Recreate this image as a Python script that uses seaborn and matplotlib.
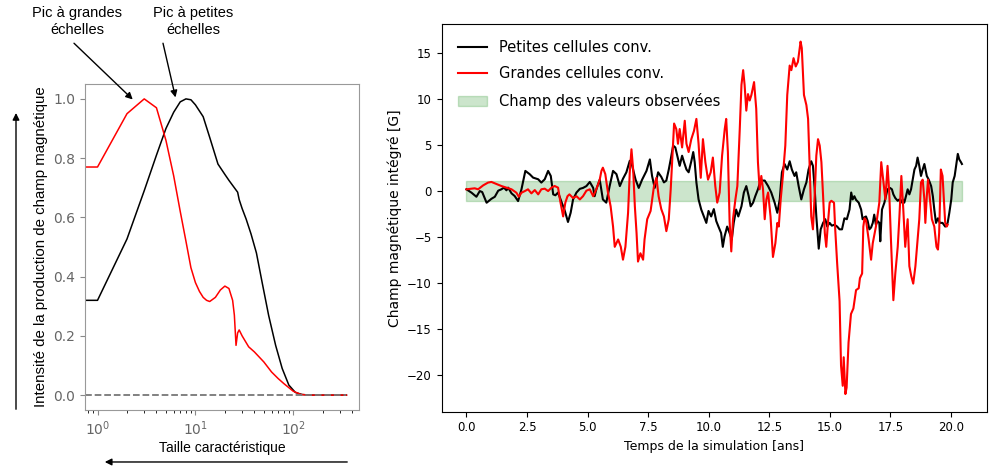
import numpy as np
import matplotlib
matplotlib.use("Agg")
import matplotlib.pyplot as plt
import seaborn as sns

# --- Panneau gauche : spectre de production ---
taille = [0, 1, 2, 3, 4, 5, 6, 7, 8, 9, 10, 11, 12, 13, 14, 16, 18, 20, 22, 24, 25, 26, 27, 28,
          30, 35, 40, 50, 60, 70, 80, 100, 120, 150, 200, 349]
prod_grandes = [0.77, 0.77, 0.95, 1.0, 0.97, 0.86, 0.74, 0.62, 0.52, 0.43, 0.38, 0.35, 0.33, 0.32,
                0.316, 0.33, 0.355, 0.368, 0.36, 0.32, 0.27, 0.168, 0.21, 0.22,
                0.2, 0.163, 0.146, 0.112, 0.078, 0.056, 0.039, 0.013, 0.002, 0.0, 0.0, 0.0]

taille_p = [0, 1, 2, 3, 4, 5, 6, 7, 8, 9, 10, 12, 14, 17, 20, 22, 25, 27, 28, 30, 33, 37, 42, 48,
            56, 66, 77, 90, 105, 123, 150, 200, 349]
prod_petites = [0.32, 0.32, 0.527, 0.69, 0.81, 0.90, 0.955, 0.99, 1.0, 0.997, 0.98, 0.94, 0.87,
                0.78, 0.745, 0.725, 0.70, 0.685, 0.66, 0.63, 0.594, 0.544, 0.48, 0.381,
                0.269, 0.168, 0.09, 0.034, 0.009, 0.002, 0.0, 0.0, 0.0]

# --- Panneau droit : champ magnetique integre ---
t_petites = [0.0, 0.21, 0.41, 0.55, 0.65, 0.83, 1.03, 1.17, 1.31, 1.44, 1.55, 1.65, 1.72, 1.86, 1.99,
             2.13, 2.27, 2.43, 2.61, 2.75, 2.96, 3.09, 3.23, 3.37, 3.48, 3.58, 3.67, 3.78, 3.92,
             4.06, 4.19, 4.30, 4.40, 4.54, 4.68, 4.81, 4.95, 5.09, 5.23, 5.29, 5.36, 5.50, 5.63,
             5.77, 5.91, 6.05, 6.19, 6.33, 6.46, 6.60, 6.74, 6.84, 6.98, 7.11, 7.25, 7.43, 7.57,
             7.66, 7.77, 7.91, 8.04, 8.15, 8.25, 8.35, 8.43, 8.53, 8.62, 8.70, 8.80, 8.90, 8.98,
             9.08, 9.17, 9.28, 9.36, 9.42, 9.49, 9.58, 9.69, 9.80, 9.90, 9.99, 10.10, 10.21,
             10.31, 10.40, 10.51, 10.58, 10.65, 10.76, 10.86, 10.95, 11.03, 11.13, 11.22, 11.35,
             11.45, 11.55, 11.65, 11.73, 11.83, 11.92, 12.03, 12.14, 12.31, 12.45, 12.58, 12.72,
             12.83, 12.93, 13.02, 13.13, 13.24, 13.34, 13.43, 13.54, 13.61, 13.71, 13.82, 13.93,
             14.03, 14.12, 14.23, 14.30, 14.37, 14.44, 14.54, 14.62, 14.72, 14.81, 14.89, 14.99,
             15.08, 15.19, 15.30, 15.40, 15.50, 15.60, 15.70, 15.81, 15.88, 15.94, 16.01, 16.08,
             16.19, 16.29, 16.35, 16.42, 16.49, 16.56, 16.63, 16.70, 16.77, 16.83, 16.90, 16.97,
             17.04, 17.08, 17.15, 17.25, 17.31, 17.38, 17.48, 17.56, 17.62, 17.70, 17.80, 17.87,
             17.93, 18.00, 18.07, 18.14, 18.21, 18.28, 18.35, 18.42, 18.49, 18.56, 18.62, 18.69,
             18.76, 18.83, 18.90, 19.00, 19.08, 19.18, 19.25, 19.31, 19.38, 19.46, 19.54, 19.65,
             19.76, 19.86, 19.93, 20.01, 20.07, 20.15, 20.21, 20.28, 20.34, 20.41, 20.45]
v_petites = [0.15, -0.22, -0.66, -0.04, -0.15, -1.31, -0.88, -0.66, 0.0, 0.15, 0.33, 0.04, 0.33, -0.29, -0.58,
             -1.13, 0.15, 2.15, 1.79, 1.42, 1.24, 0.88, 1.24, 2.15, 1.6, -0.4, -0.5, -0.2, -1.2,
             -2.2, -3.4, -2.4, -0.95, -0.2, 0.2, 0.3, 0.5, 0.95, 0.3, -0.6, 0.15, 1.2, -0.95,
             -1.3, 0.5, 2.15, 1.8, 0.5, 1.3, 2.0, 3.25, 2.7, 1.2, 0.3, 1.2, 2.15, 3.4,
             1.6, 0.3, 2.0, 1.5, 0.9, 1.1, 2.3, 3.4, 4.9, 4.7, 3.8, 2.7, 3.8, 3.1,
             2.3, 2.0, 3.2, 4.2, 3.1, 0.9, -0.95, -2.05, -2.8, -3.5, -2.2, -2.8, -2.0,
             -3.3, -3.9, -4.6, -6.1, -5.0, -3.9, -4.6, -5.3, -3.5, -2.05, -2.8, -1.7,
             -0.2, 0.5, -0.6, -1.7, -1.3, -0.6, 0.15, 1.1, 1.1, 0.5, -0.2, -1.3,
             -2.4, -0.95, 2.0, 2.9, 2.3, 3.2, 2.3, 1.6, 2.0, 0.5, -0.95, 0.15,
             0.9, 2.3, 3.2, 2.7, 0.3, -2.8, -6.3, -4.2, -3.5, -3.1, -3.9, -3.5,
             -3.8, -3.7, -3.9, -4.2, -4.2, -3.0, -3.1, -2.05, -0.2, -0.95, -0.6, -1.0,
             -1.3, -2.05, -3.1, -2.9, -2.8, -3.3, -4.2, -4.0, -3.5, -2.6, -3.7, -3.3,
             -3.5, -5.5, -2.05, -1.3, -0.6, 0.15, 0.3, 0.15, -0.4, -0.8, -1.1, -0.95,
             -1.3, -0.95, -1.3, -0.6, 0.15, -0.4, 0.15, 1.2, 2.3, 2.7, 3.6, 2.7,
             1.6, 2.3, 2.9, 1.6, 1.2, 0.5, -0.6, -2.05, -3.5, -3.0, -3.5, -3.5,
             -3.9, -3.5, -2.4, -0.95, 0.9, 1.6, 2.7, 4.0, 3.4, 3.1, 2.9]

t_grandes = [0.0, 0.34, 0.48, 0.69, 0.89, 1.03, 1.17, 1.31, 1.44, 1.65, 1.86, 2.06, 2.16, 2.27, 2.41,
             2.54, 2.68, 2.82, 2.96, 3.09, 3.23, 3.37, 3.51, 3.64, 3.78, 3.87, 3.99, 4.08, 4.17,
             4.25, 4.40, 4.54, 4.68, 4.81, 4.95, 5.09, 5.23, 5.36, 5.50, 5.57, 5.63, 5.73, 5.84,
             5.95, 6.05, 6.12, 6.26, 6.37, 6.46, 6.56, 6.67, 6.74, 6.81, 6.88, 6.95, 7.02, 7.08,
             7.18, 7.29, 7.35, 7.46, 7.60, 7.74, 7.84, 7.93, 8.04, 8.15, 8.25, 8.35, 8.43, 8.50,
             8.57, 8.66, 8.73, 8.80, 8.90, 9.01, 9.08, 9.17, 9.28, 9.39, 9.49, 9.58, 9.67, 9.76,
             9.86, 9.97, 10.08, 10.17, 10.27, 10.35, 10.45, 10.55, 10.66, 10.72, 10.79, 10.86,
             10.93, 11.00, 11.10, 11.18, 11.28, 11.35, 11.42, 11.48, 11.55, 11.62, 11.69, 11.76,
             11.87, 11.96, 12.03, 12.10, 12.17, 12.24, 12.31, 12.38, 12.45, 12.55, 12.65, 12.75,
             12.83, 12.89, 12.97, 13.06, 13.16, 13.24, 13.34, 13.41, 13.50, 13.59, 13.68, 13.79,
             13.84, 13.93, 14.03, 14.10, 14.16, 14.23, 14.30, 14.37, 14.44, 14.51, 14.58, 14.65,
             14.72, 14.79, 14.85, 14.92, 14.99, 15.06, 15.17, 15.22, 15.30, 15.40, 15.46, 15.53,
             15.57, 15.64, 15.69, 15.77, 15.87, 15.97, 16.08, 16.19, 16.24, 16.33, 16.38, 16.43,
             16.49, 16.60, 16.70, 16.77, 16.90, 17.04, 17.12, 17.21, 17.29, 17.38, 17.45, 17.52,
             17.62, 17.70, 17.80, 17.87, 17.95, 18.03, 18.11, 18.21, 18.28, 18.36, 18.44, 18.53,
             18.62, 18.69, 18.76, 18.83, 18.90, 18.94, 19.00, 19.05, 19.13, 19.21, 19.31, 19.40,
             19.46, 19.51, 19.58, 19.65, 19.76, 19.82, 19.86]
v_grandes = [0.15, 0.26, 0.15, 0.58, 0.88, 0.95, 0.8, 0.66, 0.51, 0.33, 0.15, -0.22, -0.66, -0.22, -0.04,
             0.15, -0.29, 0.07, -0.4, 0.15, 0.22, -0.04, 0.33, 0.51, 0.33, -1.13, -2.8, -1.3, -0.6,
             -0.4, -0.8, -0.6, -0.95, -0.6, 0.0, 0.15, -0.6, 0.15, 1.2, 2.15, 2.5, 1.8, -0.2,
             -1.7, -3.9, -6.1, -5.3, -6.1, -7.5, -6.1, -2.4, 2.0, 4.5, 2.3, -1.7, -4.6, -7.7,
             -6.8, -7.5, -5.3, -3.1, -2.2, 0.5, 1.4, -0.6, -2.0, -2.8, -4.4, -3.1, 0.15, 3.8,
             7.3, 6.7, 5.1, 6.7, 4.7, 7.6, 5.1, 4.2, 5.6, 6.5, 7.8, 5.1, 1.4, 5.6,
             3.1, 1.2, 2.0, 3.6, 0.5, -1.3, -0.2, 3.8, 6.7, 7.8, 4.2, -3.3,
             -6.6, -3.1, -0.95, 0.5, 6.7, 11.5, 13.1, 11.5, 8.7, 10.5, 9.8, 10.4,
             11.8, 8.9, 3.1, 0.15, 1.6, 0.15, -3.1, -0.95, -0.2, -2.8, -7.2, -5.7,
             -3.5, -3.9, -0.95, 1.6, 4.9, 10.4, 13.6, 13.1, 14.4, 13.5, 14.0, 16.2,
             15.5, 10.4, 9.3, 7.8, 3.1, -2.8, -4.2, -0.6, 3.8, 5.6, 4.9, 3.1,
             -0.6, -4.6, -6.1, -3.5, -1.3, -1.1, -1.3, -4.2, -7.9, -12.0, -19.0, -21.2,
             -18.1, -22.1, -21.4, -16.5, -13.4, -12.8, -10.8, -10.6, -9.5, -9.0, -3.9, -3.0,
             -3.2, -5.3, -7.5, -5.7, -3.9, -1.3, 3.1, 0.9, -0.95, 2.7, -0.2, -5.3,
             -11.9, -9.0, -6.1, -2.8, 1.6, -2.05, -6.1, -3.1, -8.2, -9.3, -10.1, -8.2,
             -5.3, -3.1, 0.9, 1.2, -0.95, -3.5, -0.6, 1.2, -0.95, -3.1, -3.9, -6.1,
             -6.4, -4.6, 2.3, 1.6, -3.5, -3.9, -3.7]

bande_obs = (-1.1, 1.1)

fig = plt.figure(figsize=(10, 4.75), dpi=100)
ax1 = fig.add_axes([0.085, 0.137, 0.274, 0.686])
ax2 = fig.add_axes([0.4417, 0.1333, 0.545, 0.8162])

# --- Gauche ---
sns.lineplot(x=taille_p, y=prod_petites, color='k', lw=1.1, ax=ax1, legend=False)
sns.lineplot(x=taille, y=prod_grandes, color='r', lw=1.1, ax=ax1, legend=False)
ax1.plot(taille, np.zeros(len(taille)), ls='--', color='#777777', lw=1.3)
ax1.set_xscale('log')
ax1.set_xlim(0.745, 469)
ax1.set_ylim(-0.05, 1.05)
ax1.tick_params(colors='#888888', labelcolor='#666666', labelsize=10)
for s in ax1.spines.values():
    s.set_color('#999999')
ax1.set_xlabel('Taille caractéristique', family='Liberation Sans', fontsize=10, color='k', labelpad=2)
ax1.set_ylabel('Intensité de la production de champ magnétique', family='Liberation Sans',
               fontsize=10.8, color='k', labelpad=4)

# annotations des pics
fig.text(0.077, 0.955, 'Pic à grandes\néchelles', ha='center', va='center',
         family='Liberation Sans', fontsize=10.5, linespacing=1.3)
fig.text(0.193, 0.955, 'Pic à petites\néchelles', ha='center', va='center',
         family='Liberation Sans', fontsize=10.5, linespacing=1.3)
arr = dict(arrowstyle='-|>', color='k', lw=1, shrinkA=0, shrinkB=0, mutation_scale=10)
ax1.annotate('', xy=(2.29, 0.998), xytext=(0.074, 0.909), textcoords='figure fraction',
             arrowprops=arr, annotation_clip=False)
ax1.annotate('', xy=(6.26, 1.005), xytext=(0.163, 0.909), textcoords='figure fraction',
             arrowprops=arr, annotation_clip=False)
# fleches des axes
fig.add_artist(matplotlib.patches.FancyArrowPatch((0.016, 0.1326), (0.016, 0.768),
               transform=fig.transFigure, arrowstyle='-|>', mutation_scale=10, color='k', lw=1))
fig.add_artist(matplotlib.patches.FancyArrowPatch((0.35, 0.0274), (0.102, 0.0274),
               transform=fig.transFigure, arrowstyle='-|>', mutation_scale=10, color='k', lw=1))

# --- Droite ---
sns.lineplot(x=t_petites, y=v_petites, color='k', lw=1.5, ax=ax2, label='Petites cellules conv.')
sns.lineplot(x=t_grandes, y=v_grandes, color='r', lw=1.5, ax=ax2, label='Grandes cellules conv.')
ax2.fill_between([t_petites[0], t_petites[-1]], bande_obs[0], bande_obs[1], color='green', alpha=0.2,
                 label='Champ des valeurs observées')
ax2.set_xticks([0, 2.5, 5, 7.5, 10, 12.5, 15, 17.5, 20])
ax2.set_xticklabels(['0.0', '2.5', '5.0', '7.5', '10.0', '12.5', '15.0', '17.5', '20.0'])
ax2.set_yticks([-20, -15, -10, -5, 0, 5, 10, 15])
ax2.tick_params(labelsize=8.5)
ax2.set_xlabel('Temps de la simulation [ans]', fontsize=9)
ax2.set_ylabel('Champ magnétique intégré [G]', fontsize=10)
ax2.legend(loc='upper left', frameon=False, fontsize=10.5, labelspacing=0.78, borderaxespad=0.7)

fig.savefig('out.png', dpi=100)
